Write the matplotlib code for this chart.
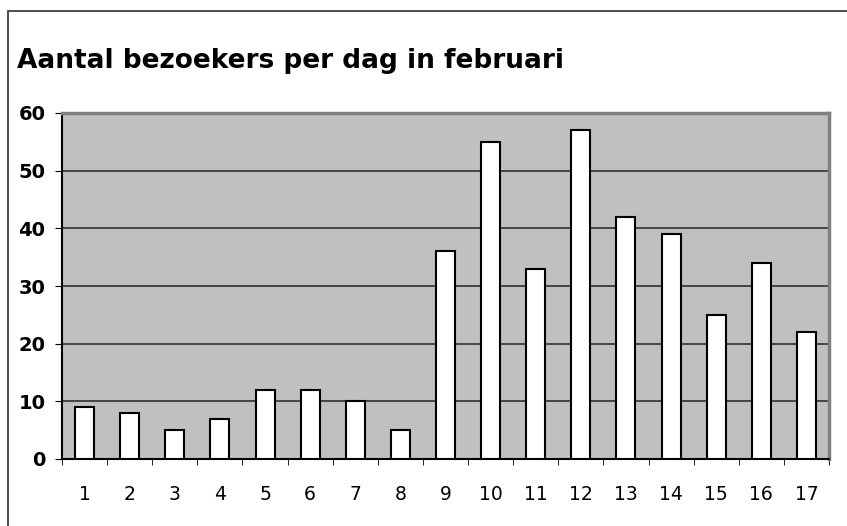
import matplotlib.pyplot as plt
from matplotlib.patches import Rectangle

days = list(range(1, 18))
visitors = [9, 8, 5, 7, 12, 12, 10, 5, 36, 55, 33, 57, 42, 39, 25, 34, 22]
title = 'Aantal bezoekers per dag in februari'

fig = plt.figure(figsize=(8.47, 5.26), dpi=100)
ax = fig.add_axes([62 / 847, 67 / 526, 767 / 847, 346 / 526])

# outer chart border (runs off the right and bottom edges)
fig.patches.append(Rectangle((8 / 847, -0.1), 1.2, 0.1 + (526 - 11) / 526,
                             transform=fig.transFigure, fill=False,
                             edgecolor='#303030', linewidth=1.2))

ax.set_facecolor('#c0c0c0')
ax.bar(days, visitors, width=0.42, color='white', edgecolor='black',
       linewidth=1.5, zorder=3)

ax.set_xlim(0.5, 17.5)
ax.set_ylim(0, 60)
ax.set_yticks(range(0, 61, 10))
ax.set_xticks(days)
ax.set_xticks([d + 0.5 for d in range(0, 18)], minor=True)
ax.tick_params(axis='x', which='major', length=0, pad=19, labelsize=13.5)
ax.tick_params(axis='x', which='minor', length=4.5, direction='out')
ax.tick_params(axis='y', length=5, direction='out', labelsize=14, pad=7)
for lbl in ax.get_yticklabels():
    lbl.set_fontweight('bold')

ax.yaxis.grid(True, color='#303030', linewidth=1.2, zorder=1)
ax.set_axisbelow(True)

ax.spines['left'].set_color('black')
ax.spines['bottom'].set_color('black')
ax.spines['top'].set_color('#808080')
ax.spines['right'].set_color('#808080')
for s in ax.spines.values():
    s.set_linewidth(1.5)
ax.spines['top'].set_linewidth(2.5)
ax.spines['right'].set_linewidth(2.5)

fig.text(17 / 847, (526 - 68) / 526, title, fontsize=19, fontweight='bold',
         ha='left', va='baseline')

fig.savefig('out.png', dpi=100)
